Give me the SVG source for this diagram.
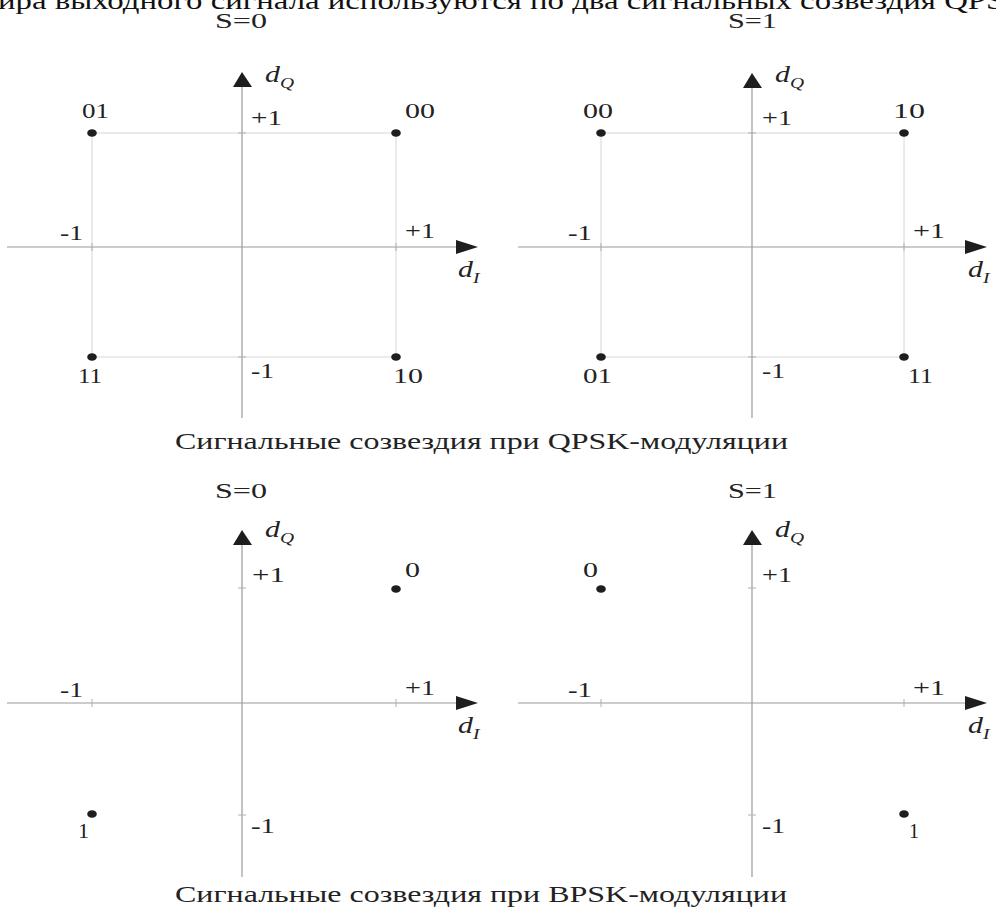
<svg xmlns="http://www.w3.org/2000/svg" width="996" height="908" viewBox="0 0 996 908">
<style>
  text { font-family: "Liberation Serif", "Times New Roman", serif; fill: #222; }
  .lbl { font-size: 22px; }
  .cap { font-size: 23px; }
  .top { font-size: 26px; fill: #111; }
  .it { font-style: italic; font-size: 23px; }
  .sub { font-style: italic; font-size: 15px; }
  .axis { stroke: #9a9a9a; stroke-width: 1.2; fill: none; }
  .grid { stroke: #e4e4e4; stroke-width: 1.5; fill: none; }
  .tick { stroke: #b0b0b0; stroke-width: 1; }
  .arr { fill: #1e1e1e; }
  .pt { fill: #1e1e1e; }
</style>
<rect x="0" y="0" width="996" height="908" fill="#ffffff"/>

<text class="top" x="-2" y="9" textLength="1030" lengthAdjust="spacingAndGlyphs">ира выходного сигнала используются по два сигнальных созвездия QPSK</text>

<!-- QPSK S=0 -->
<g id="qpsk-s0">
  <text class="lbl" x="215" y="28" textLength="52" lengthAdjust="spacingAndGlyphs">S=0</text>
  <rect class="grid" x="92" y="133" width="304" height="224"/>
  <line class="axis" x1="7" y1="247" x2="460" y2="247"/>
  <line class="axis" x1="242" y1="85" x2="242" y2="418"/>
  <path class="tick" d="M92 243v8M396 243v8M238 133h8M238 357h8"/>
  <polygon class="arr" points="478,247 456,240 456,254"/>
  <polygon class="arr" points="242,72 233,87 252,87"/>
  <text class="it" transform="translate(265,82) scale(1.3,1)">d<tspan class="sub" dy="6">Q</tspan></text>
  <text class="it" transform="translate(458,277) scale(1.3,1)">d<tspan class="sub" dy="6">I</tspan></text>
  <text class="lbl" x="251" y="125" textLength="31" lengthAdjust="spacingAndGlyphs">+1</text>
  <text class="lbl" x="251" y="378" textLength="23" lengthAdjust="spacingAndGlyphs">-1</text>
  <text class="lbl" x="60" y="240" textLength="23" lengthAdjust="spacingAndGlyphs">-1</text>
  <text class="lbl" x="405" y="238" textLength="30" lengthAdjust="spacingAndGlyphs">+1</text>
  <g id="qpsk-s0-01"><ellipse class="pt" cx="92" cy="133" rx="4.8" ry="3.8"/><text class="lbl" x="82" y="118" textLength="27" lengthAdjust="spacingAndGlyphs">01</text></g>
  <g id="qpsk-s0-00"><ellipse class="pt" cx="396" cy="133" rx="4.8" ry="3.8"/><text class="lbl" x="405" y="118" textLength="30" lengthAdjust="spacingAndGlyphs">00</text></g>
  <g id="qpsk-s0-11"><ellipse class="pt" cx="92" cy="357" rx="4.8" ry="3.8"/><text class="lbl" x="78" y="383" textLength="24" lengthAdjust="spacingAndGlyphs">11</text></g>
  <g id="qpsk-s0-10"><ellipse class="pt" cx="396" cy="357" rx="4.8" ry="3.8"/><text class="lbl" x="393" y="383" textLength="30" lengthAdjust="spacingAndGlyphs">10</text></g>
</g>

<!-- QPSK S=1 -->
<g id="qpsk-s1">
  <text class="lbl" x="728" y="28" textLength="49" lengthAdjust="spacingAndGlyphs">S=1</text>
  <rect class="grid" x="601" y="133" width="303" height="224"/>
  <line class="axis" x1="518" y1="247" x2="968" y2="247"/>
  <line class="axis" x1="752" y1="86" x2="752" y2="418"/>
  <path class="tick" d="M601 243v8M904 243v8M748 133h8M748 357h8"/>
  <polygon class="arr" points="987,247 965,240 965,254"/>
  <polygon class="arr" points="752,73 743,88 762,88"/>
  <text class="it" transform="translate(775,82) scale(1.3,1)">d<tspan class="sub" dy="6">Q</tspan></text>
  <text class="it" transform="translate(968,277) scale(1.3,1)">d<tspan class="sub" dy="6">I</tspan></text>
  <text class="lbl" x="762" y="125" textLength="30" lengthAdjust="spacingAndGlyphs">+1</text>
  <text class="lbl" x="762" y="378" textLength="23" lengthAdjust="spacingAndGlyphs">-1</text>
  <text class="lbl" x="568" y="240" textLength="24" lengthAdjust="spacingAndGlyphs">-1</text>
  <text class="lbl" x="913" y="238" textLength="32" lengthAdjust="spacingAndGlyphs">+1</text>
  <g id="qpsk-s1-00"><ellipse class="pt" cx="601" cy="133" rx="4.8" ry="3.8"/><text class="lbl" x="583" y="118" textLength="30" lengthAdjust="spacingAndGlyphs">00</text></g>
  <g id="qpsk-s1-10"><ellipse class="pt" cx="904" cy="133" rx="4.8" ry="3.8"/><text class="lbl" x="893" y="118" textLength="32" lengthAdjust="spacingAndGlyphs">10</text></g>
  <g id="qpsk-s1-01"><ellipse class="pt" cx="601" cy="357" rx="4.8" ry="3.8"/><text class="lbl" x="583" y="383" textLength="29" lengthAdjust="spacingAndGlyphs">01</text></g>
  <g id="qpsk-s1-11"><ellipse class="pt" cx="904" cy="357" rx="4.8" ry="3.8"/><text class="lbl" x="908" y="383" textLength="25" lengthAdjust="spacingAndGlyphs">11</text></g>
</g>

<text class="cap" x="175" y="449" textLength="613" lengthAdjust="spacingAndGlyphs">Сигнальные созвездия при QPSK-модуляции</text>

<!-- BPSK S=0 -->
<g id="bpsk-s0">
  <text class="lbl" x="215" y="498" textLength="52" lengthAdjust="spacingAndGlyphs">S=0</text>
  <line class="axis" x1="7" y1="703" x2="460" y2="703"/>
  <line class="axis" x1="242" y1="543" x2="242" y2="877"/>
  <path class="tick" d="M92 699v8M396 699v8M238 588h8M238 815h8"/>
  <polygon class="arr" points="478,703 456,696 456,710"/>
  <polygon class="arr" points="242,530 233,545 252,545"/>
  <text class="it" transform="translate(265,537) scale(1.3,1)">d<tspan class="sub" dy="6">Q</tspan></text>
  <text class="it" transform="translate(458,733) scale(1.3,1)">d<tspan class="sub" dy="6">I</tspan></text>
  <text class="lbl" x="252" y="582" textLength="33" lengthAdjust="spacingAndGlyphs">+1</text>
  <text class="lbl" x="251" y="833" textLength="24" lengthAdjust="spacingAndGlyphs">-1</text>
  <text class="lbl" x="60" y="697" textLength="23" lengthAdjust="spacingAndGlyphs">-1</text>
  <text class="lbl" x="405" y="695" textLength="30" lengthAdjust="spacingAndGlyphs">+1</text>
  <g id="bpsk-s0-0"><ellipse class="pt" cx="396" cy="589" rx="4.8" ry="3.8"/><text class="lbl" x="405" y="577" textLength="15" lengthAdjust="spacingAndGlyphs">0</text></g>
  <g id="bpsk-s0-1"><ellipse class="pt" cx="92" cy="814" rx="4.8" ry="3.8"/><text class="lbl" x="78" y="838" textLength="11" lengthAdjust="spacingAndGlyphs">1</text></g>
</g>

<!-- BPSK S=1 -->
<g id="bpsk-s1">
  <text class="lbl" x="728" y="498" textLength="49" lengthAdjust="spacingAndGlyphs">S=1</text>
  <line class="axis" x1="518" y1="703" x2="968" y2="703"/>
  <line class="axis" x1="752" y1="543" x2="752" y2="877"/>
  <path class="tick" d="M601 699v8M904 699v8M748 588h8M748 815h8"/>
  <polygon class="arr" points="987,703 965,696 965,710"/>
  <polygon class="arr" points="752,530 743,545 762,545"/>
  <text class="it" transform="translate(775,537) scale(1.3,1)">d<tspan class="sub" dy="6">Q</tspan></text>
  <text class="it" transform="translate(968,733) scale(1.3,1)">d<tspan class="sub" dy="6">I</tspan></text>
  <text class="lbl" x="762" y="582" textLength="30" lengthAdjust="spacingAndGlyphs">+1</text>
  <text class="lbl" x="762" y="833" textLength="23" lengthAdjust="spacingAndGlyphs">-1</text>
  <text class="lbl" x="568" y="697" textLength="24" lengthAdjust="spacingAndGlyphs">-1</text>
  <text class="lbl" x="913" y="695" textLength="32" lengthAdjust="spacingAndGlyphs">+1</text>
  <g id="bpsk-s1-0"><ellipse class="pt" cx="601" cy="589" rx="4.8" ry="3.8"/><text class="lbl" x="583" y="577" textLength="15" lengthAdjust="spacingAndGlyphs">0</text></g>
  <g id="bpsk-s1-1"><ellipse class="pt" cx="904" cy="814" rx="4.8" ry="3.8"/><text class="lbl" x="909" y="838" textLength="10" lengthAdjust="spacingAndGlyphs">1</text></g>
</g>

<text class="cap" x="175" y="902" textLength="612" lengthAdjust="spacingAndGlyphs">Сигнальные созвездия при BPSK-модуляции</text>
</svg>
